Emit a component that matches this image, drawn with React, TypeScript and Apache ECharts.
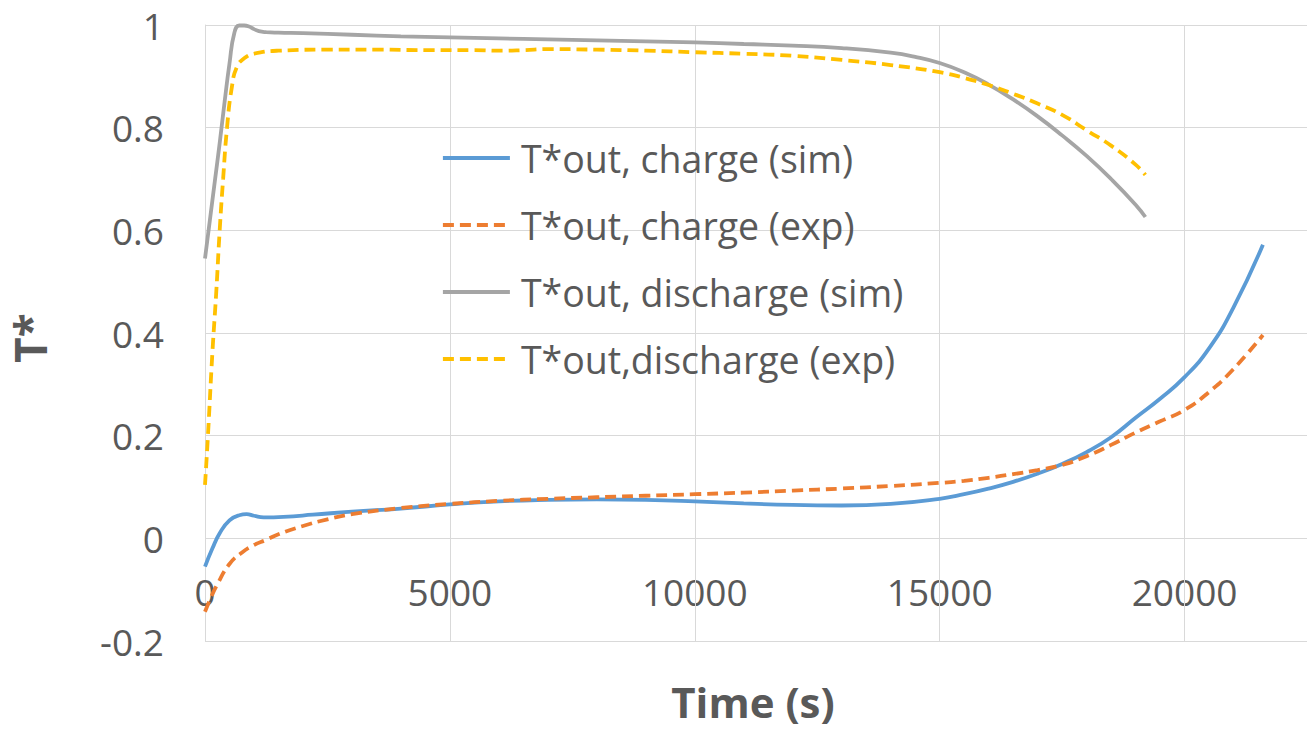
import React, { useEffect, useRef } from "react";
import * as echarts from "echarts";

const chargeSimT = [0, 150, 300, 500, 700, 850, 1000, 1200, 1600, 2200, 3000, 4000, 5000, 6000, 7000, 8000, 9000, 10000, 11000, 12000, 13000, 14000, 15000, 15500, 16000, 16500, 17000, 17500, 18000, 18500, 19000, 19500, 20000, 20500, 21000, 21600];
const chargeSimV = [-0.055, -0.02, 0.01, 0.035, 0.045, 0.047, 0.044, 0.041, 0.042, 0.046, 0.052, 0.058, 0.066, 0.072, 0.075, 0.076, 0.075, 0.072, 0.068, 0.065, 0.064, 0.067, 0.077, 0.086, 0.097, 0.11, 0.126, 0.145, 0.168, 0.197, 0.235, 0.272, 0.314, 0.37, 0.45, 0.572];

const chargeExpT = [0, 100, 250, 500, 750, 1000, 1250, 1500, 2000, 2500, 3000, 4000, 5000, 6000, 7000, 8000, 9000, 10000, 11000, 12000, 13000, 14000, 15000, 15500, 16000, 16500, 17000, 17500, 18000, 18500, 19000, 19500, 20000, 20500, 21000, 21600];
const chargeExpV = [-0.143, -0.12, -0.09, -0.05, -0.028, -0.013, -0.003, 0.008, 0.024, 0.037, 0.047, 0.059, 0.067, 0.073, 0.077, 0.08, 0.083, 0.086, 0.089, 0.093, 0.097, 0.102, 0.108, 0.112, 0.118, 0.125, 0.133, 0.143, 0.16, 0.182, 0.206, 0.228, 0.25, 0.285, 0.33, 0.396];

const dischargeSimT = [0, 100, 200, 300, 400, 500, 600, 700, 800, 900, 1000, 1100, 1250, 1500, 2000, 3000, 4000, 5000, 6000, 7000, 8000, 9000, 10000, 11000, 12000, 13000, 14000, 14500, 15000, 15500, 16000, 16500, 17000, 17500, 18000, 18500, 19000, 19200];
const dischargeSimV = [0.545, 0.62, 0.695, 0.77, 0.85, 0.925, 0.985, 0.999, 0.999, 0.997, 0.992, 0.988, 0.986, 0.985, 0.984, 0.981, 0.978, 0.976, 0.974, 0.972, 0.97, 0.968, 0.966, 0.963, 0.96, 0.955, 0.946, 0.938, 0.926, 0.908, 0.884, 0.855, 0.822, 0.785, 0.745, 0.7, 0.65, 0.626];

const dischargeExpT = [0, 60, 150, 230, 300, 370, 450, 550, 650, 800, 1000, 1500, 2500, 3500, 4500, 5500, 6000, 6500, 7000, 8000, 9000, 10000, 11000, 12000, 13000, 14000, 15000, 15500, 16000, 16500, 17000, 17500, 18000, 18500, 19000, 19200];
const dischargeExpV = [0.104, 0.2, 0.36, 0.48, 0.6, 0.7, 0.8, 0.88, 0.918, 0.935, 0.944, 0.95, 0.952, 0.952, 0.951, 0.951, 0.95, 0.951, 0.953, 0.952, 0.95, 0.947, 0.944, 0.94, 0.932, 0.922, 0.908, 0.897, 0.883, 0.866, 0.847, 0.825, 0.795, 0.765, 0.728, 0.708];

const seriesNames = ["T*out, charge (sim)", "T*out, charge (exp)", "T*out, discharge (sim)", "T*out,discharge (exp)"];
const xAxisTitle = "Time (s)";
const yAxisTitle = "T*";
const xGridValues = [5000, 10000, 15000, 20000];
const yTicks = { min: -0.2, max: 1, interval: 0.2 };
const xTicks = { min: 0, max: 22500, interval: 5000 };

const zip = (t: number[], v: number[]) => t.map((x, i) => [x, v[i]]);

export default function App() {
  const ref = useRef<HTMLDivElement>(null);
  useEffect(() => {
    if (!ref.current) return;
    const chart = echarts.init(ref.current, null, { renderer: "svg" });
    const font = "'Open Sans', 'Noto Sans', sans-serif";
    const labelColor = "#595959";
    const gridColor = "#d9d9d9";
    const mk = (name: string, data: number[][], color: string, dashed: boolean, extra: any = {}) => ({
      name,
      type: "line",
      data,
      symbol: "none",
      smooth: true,
      lineStyle: { color, width: 3.8, type: dashed ? [11, 6] : "solid", cap: "butt" },
      itemStyle: { color },
      z: 3,
      ...extra,
    });
    chart.setOption({
      animation: false,
      backgroundColor: "#ffffff",
      textStyle: { fontFamily: font },
      grid: { left: 205, top: 25, right: 7, bottom: 88, containLabel: false, outerBoundsMode: "none" },
      legend: {
        left: 441,
        top: 138,
        padding: 0,
        orient: "vertical",
        itemWidth: 67,
        itemHeight: 20,
        itemGap: 27,
        data: seriesNames,
        itemStyle: { opacity: 0, borderWidth: 0 },
        lineStyle: { width: 3.8 },
        textStyle: { fontSize: 37.5, color: labelColor, fontFamily: font, lineHeight: 40, padding: [0, 0, 0, 6] },
      },
      graphic: [
        {
          type: "text",
          x: 753,
          y: 701,
          silent: true,
          style: {
            text: xAxisTitle,
            fill: labelColor,
            font: `bold 42px ${font}`,
            lineHeight: 44,
            textAlign: "center",
            textVerticalAlign: "middle",
          },
        },
        {
          type: "text",
          x: 30,
          y: 338,
          rotation: Math.PI / 2,
          silent: true,
          style: {
            text: yAxisTitle,
            fill: labelColor,
            font: `bold 44px ${font}`,
            lineHeight: 46,
            textAlign: "center",
            textVerticalAlign: "middle",
          },
        },
      ],
      xAxis: {
        type: "value",
        min: xTicks.min,
        max: xTicks.max,
        interval: xTicks.interval,
        axisLine: { show: false, onZero: false },
        axisTick: { show: false },
        axisLabel: {
          fontSize: 37,
          color: labelColor,
          margin: -68,
          formatter: (v: number) => (v % 5000 === 0 ? String(v) : ""),
        },
        splitLine: { show: false },
      },
      yAxis: {
        type: "value",
        min: yTicks.min,
        max: yTicks.max,
        interval: yTicks.interval,
        axisLine: { show: true, onZero: false, lineStyle: { color: gridColor, width: 1 } },
        axisTick: { show: false },
        axisLabel: {
          fontSize: 37,
          color: labelColor,
          margin: 41,
          formatter: (v: number) => String(Math.round(v * 10) / 10),
        },
        splitLine: { show: true, lineStyle: { color: gridColor, width: 1 } },
      },
      series: [
        mk(seriesNames[0], zip(chargeSimT, chargeSimV), "#5B9BD5", false, {
          markLine: {
            silent: true,
            symbol: ["none", "none"],
            label: { show: false },
            lineStyle: { color: gridColor, width: 1, type: "solid" },
            z: 1,
            data: xGridValues.map((x) => ({ xAxis: x })),
          },
        }),
        mk(seriesNames[1], zip(chargeExpT, chargeExpV), "#ED7D31", true),
        mk(seriesNames[2], zip(dischargeSimT, dischargeSimV), "#A5A5A5", false),
        mk(seriesNames[3], zip(dischargeExpT, dischargeExpV), "#FFC000", true),
      ],
    });
    return () => chart.dispose();
  }, []);
  return <div ref={ref} style={{ width: 1314, height: 729, position: "absolute", left: 0, top: 0 }} />;
}
